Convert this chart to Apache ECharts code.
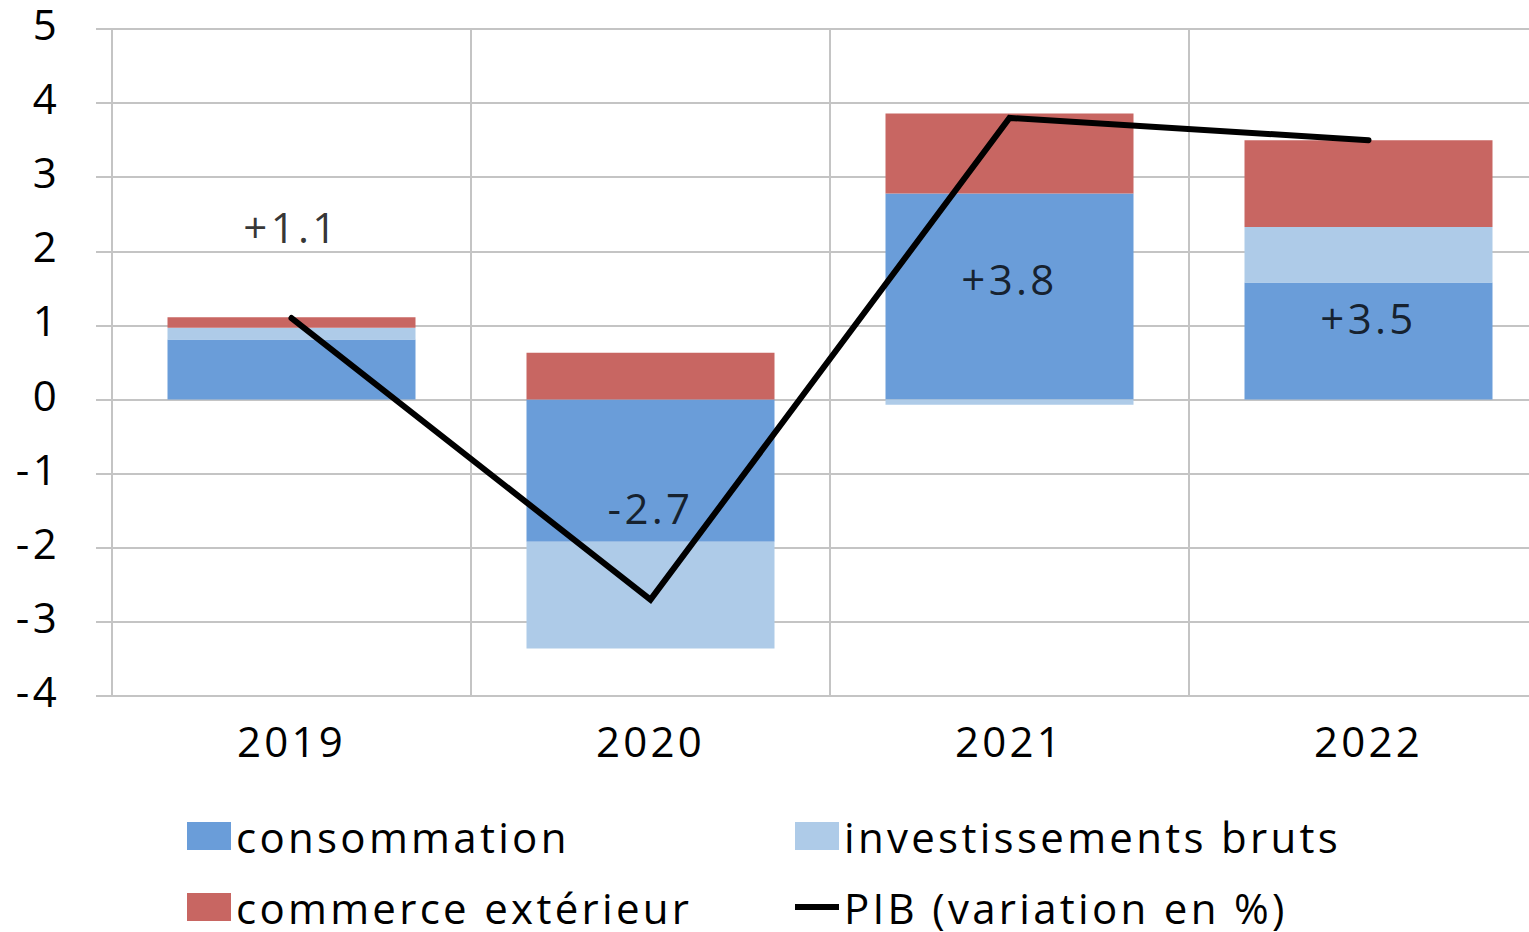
<!DOCTYPE html>
<html>
<head>
<meta charset="utf-8">
<script src="https://cdn.jsdelivr.net/npm/echarts@6/dist/echarts.min.js"></script>
<style>
  html, body { margin: 0; padding: 0; background: #fff; overflow: hidden; }
  /* the plot continues a little past the right edge of the window */
  #chart { width: 1548px; height: 932px; }
  /* airy, widely spaced lettering */
  #chart text { letter-spacing: 3.3px; }
</style>
</head>
<body>
<div id="chart"></div>
<script>
// Contributions à la croissance du PIB (points de %)
const years = ['2019', '2020', '2021', '2022'];
const consommation = [0.81, -1.92, 2.78, 1.58];
const investissements = [0.16, -1.44, -0.07, 0.75];
const commerce = [0.14, 0.63, 1.08, 1.17];
const pib = [1.1, -2.7, 3.8, 3.5];
const yTicks = [-4, -3, -2, -1, 0, 1, 2, 3, 4, 5];

// vertical shift (px) of each GDP label relative to its point
const pibLabelShift = [-92, -92, 161, 177];

const FONT = 'Open Sans';
const GRID_COLOR = '#c4c4c4';
const COLORS = { conso: '#6a9dd9', invest: '#aecbe8', commerce: '#c86662', pib: '#000000' };

const chart = echarts.init(document.getElementById('chart'), null, { renderer: 'svg' });

const fmt = v => (v > 0 ? '+' : '') + v.toFixed(1);

const legendText = { fontFamily: FONT, fontSize: 42, lineHeight: 42, color: '#000' };

chart.setOption({
  animation: false,
  backgroundColor: '#ffffff',
  textStyle: { fontFamily: FONT },
  grid: { left: 112, top: 29, right: 0, bottom: 236, containLabel: false },
  legend: [
    {
      orient: 'vertical', left: 187, top: 815, padding: 0,
      itemWidth: 44, itemHeight: 28, itemGap: 29,
      textStyle: legendText,
      data: [
        { name: 'consommation', icon: 'rect' },
        { name: 'commerce extérieur', icon: 'rect' }
      ]
    },
    {
      orient: 'vertical', left: 795, top: 815, padding: 0,
      itemWidth: 44, itemHeight: 28, itemGap: 29,
      textStyle: legendText,
      data: [
        { name: 'investissements bruts', icon: 'rect' },
        { name: 'PIB (variation en %)', icon: 'path://M0,0H44V6H0Z' }
      ]
    }
  ],
  xAxis: {
    type: 'category',
    data: years,
    boundaryGap: true,
    axisLine: { show: true, onZero: false, lineStyle: { color: GRID_COLOR, width: 2 } },
    axisTick: { show: false },
    splitLine: { show: true, interval: 0, lineStyle: { color: GRID_COLOR, width: 2 } },
    axisLabel: { fontFamily: FONT, fontSize: 42, color: '#000', margin: 23 }
  },
  yAxis: {
    type: 'value',
    min: yTicks[0],
    max: yTicks[yTicks.length - 1],
    interval: 1,
    axisLine: { show: true, lineStyle: { color: GRID_COLOR, width: 2 } },
    axisTick: { show: true, length: 16, lineStyle: { color: GRID_COLOR, width: 2 } },
    splitLine: { show: true, lineStyle: { color: GRID_COLOR, width: 2 } },
    axisLabel: {
      fontFamily: FONT, fontSize: 42, color: '#000', margin: 52,
      verticalAlign: 'bottom', lineHeight: 11
    }
  },
  series: [
    {
      name: 'consommation', type: 'bar', stack: 'total', barWidth: 248,
      itemStyle: { color: COLORS.conso }, data: consommation
    },
    {
      name: 'investissements bruts', type: 'bar', stack: 'total', barWidth: 248,
      itemStyle: { color: COLORS.invest }, data: investissements
    },
    {
      name: 'commerce extérieur', type: 'bar', stack: 'total', barWidth: 248,
      itemStyle: { color: COLORS.commerce }, data: commerce
    },
    {
      name: 'PIB (variation en %)', type: 'line', symbol: 'none', z: 5,
      itemStyle: { color: COLORS.pib },
      lineStyle: { color: COLORS.pib, width: 6, cap: 'round', join: 'miter' },
      data: pib
    },
    {
      // value labels for the GDP line
      name: 'PIB labels', type: 'scatter', z: 6, symbolSize: 1,
      itemStyle: { color: 'rgba(0,0,0,0)' },
      silent: true,
      data: pib.map((v, i) => ({
        value: v,
        label: {
          show: true, position: 'inside', offset: [0, pibLabelShift[i]],
          formatter: fmt(v), fontFamily: FONT, fontSize: 42, color: '#000'
        }
      }))
    }
  ]
});
</script>
</body>
</html>
